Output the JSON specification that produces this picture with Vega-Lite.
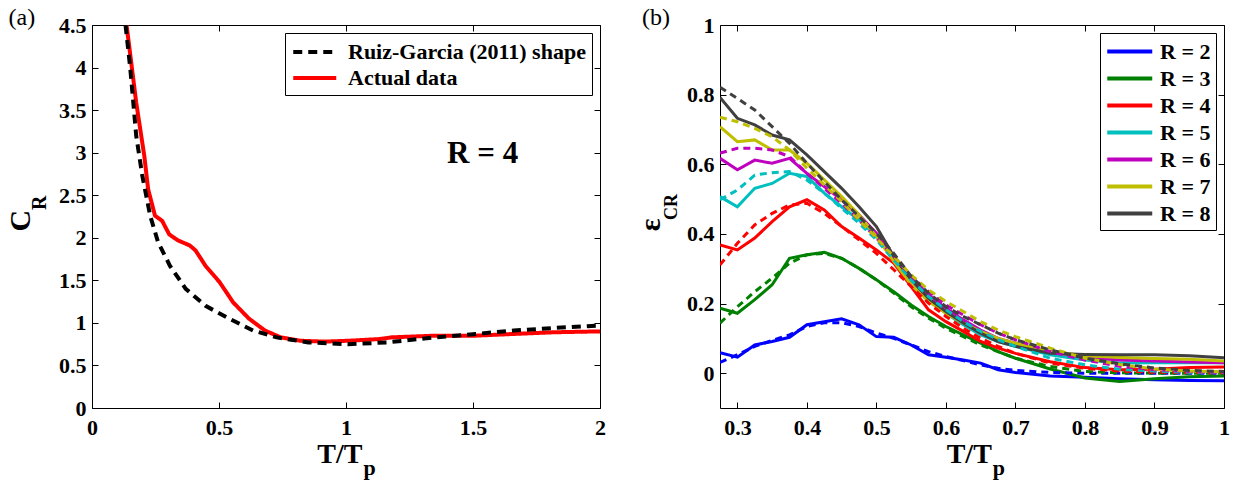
{
"$schema": "https://vega.github.io/schema/vega-lite/v6.json",
"padding": {"left": 5, "top": 5, "right": 5, "bottom": 0},
"bounds": "flush",
"spacing": 120,
"resolve": {"scale": {"color": "independent", "strokeDash": "independent"}, "legend": {"color": "independent", "strokeDash": "independent"}},
"config": {
  "view": {"stroke": "#000000", "strokeWidth": 1},
  "axis": {"grid": false, "domain": false, "ticks": true, "tickColor": "#000000", "tickSize": -6, "tickWidth": 1, "labelFont": "Liberation Serif", "labelFontWeight": "bold", "labelFontSize": 22, "labelColor": "#000000", "labelFlush": false, "labelOverlap": false},
  "axisX": {"labelPadding": 15, "labelFontWeight": "bold"},
  "axisY": {"labelPadding": 12, "labelFontWeight": "bold"},
  "line": {"strokeCap": "butt"},
  "text": {"font": "Liberation Serif", "color": "#000000"}
},
"datasets": {
  "left": [
    {"T":0.136,"C":4.5,"s":"Actual data"},{"T":0.174,"C":3.59,"s":"Actual data"},{"T":0.206,"C":2.96,"s":"Actual data"},{"T":0.221,"C":2.57,"s":"Actual data"},{"T":0.248,"C":2.26,"s":"Actual data"},{"T":0.276,"C":2.2,"s":"Actual data"},{"T":0.304,"C":2.04,"s":"Actual data"},{"T":0.338,"C":1.97,"s":"Actual data"},{"T":0.385,"C":1.91,"s":"Actual data"},{"T":0.408,"C":1.85,"s":"Actual data"},{"T":0.447,"C":1.67,"s":"Actual data"},{"T":0.502,"C":1.48,"s":"Actual data"},{"T":0.556,"C":1.24,"s":"Actual data"},{"T":0.618,"C":1.05,"s":"Actual data"},{"T":0.681,"C":0.91,"s":"Actual data"},{"T":0.743,"C":0.83,"s":"Actual data"},{"T":0.821,"C":0.79,"s":"Actual data"},{"T":0.914,"C":0.78,"s":"Actual data"},{"T":1.008,"C":0.79,"s":"Actual data"},{"T":1.132,"C":0.81,"s":"Actual data"},{"T":1.18,"C":0.83,"s":"Actual data"},{"T":1.35,"C":0.85,"s":"Actual data"},{"T":1.51,"C":0.85,"s":"Actual data"},{"T":1.66,"C":0.87,"s":"Actual data"},{"T":1.82,"C":0.89,"s":"Actual data"},{"T":2.0,"C":0.9,"s":"Actual data"},
    {"T":0.132,"C":4.5,"s":"Ruiz-Garcia (2011) shape"},{"T":0.151,"C":3.98,"s":"Ruiz-Garcia (2011) shape"},{"T":0.174,"C":3.2,"s":"Ruiz-Garcia (2011) shape"},{"T":0.198,"C":2.73,"s":"Ruiz-Garcia (2011) shape"},{"T":0.229,"C":2.26,"s":"Ruiz-Garcia (2011) shape"},{"T":0.26,"C":1.95,"s":"Ruiz-Garcia (2011) shape"},{"T":0.307,"C":1.67,"s":"Ruiz-Garcia (2011) shape"},{"T":0.369,"C":1.4,"s":"Ruiz-Garcia (2011) shape"},{"T":0.447,"C":1.2,"s":"Ruiz-Garcia (2011) shape"},{"T":0.54,"C":1.05,"s":"Ruiz-Garcia (2011) shape"},{"T":0.634,"C":0.91,"s":"Ruiz-Garcia (2011) shape"},{"T":0.727,"C":0.83,"s":"Ruiz-Garcia (2011) shape"},{"T":0.852,"C":0.77,"s":"Ruiz-Garcia (2011) shape"},{"T":1.008,"C":0.75,"s":"Ruiz-Garcia (2011) shape"},{"T":1.16,"C":0.77,"s":"Ruiz-Garcia (2011) shape"},{"T":1.35,"C":0.83,"s":"Ruiz-Garcia (2011) shape"},{"T":1.51,"C":0.87,"s":"Ruiz-Garcia (2011) shape"},{"T":1.66,"C":0.91,"s":"Ruiz-Garcia (2011) shape"},{"T":1.82,"C":0.94,"s":"Ruiz-Garcia (2011) shape"},{"T":2.0,"C":0.97,"s":"Ruiz-Garcia (2011) shape"}
  ],
  "right": [
    {"T":0.275,"e":0.059,"R":"R = 2","k":"a"},{"T":0.3,"e":0.046,"R":"R = 2","k":"a"},{"T":0.325,"e":0.081,"R":"R = 2","k":"a"},{"T":0.35,"e":0.091,"R":"R = 2","k":"a"},{"T":0.375,"e":0.103,"R":"R = 2","k":"a"},{"T":0.4,"e":0.139,"R":"R = 2","k":"a"},{"T":0.425,"e":0.148,"R":"R = 2","k":"a"},{"T":0.45,"e":0.156,"R":"R = 2","k":"a"},{"T":0.475,"e":0.139,"R":"R = 2","k":"a"},{"T":0.5,"e":0.105,"R":"R = 2","k":"a"},{"T":0.525,"e":0.103,"R":"R = 2","k":"a"},{"T":0.55,"e":0.081,"R":"R = 2","k":"a"},{"T":0.575,"e":0.053,"R":"R = 2","k":"a"},{"T":0.6,"e":0.046,"R":"R = 2","k":"a"},{"T":0.625,"e":0.038,"R":"R = 2","k":"a"},{"T":0.65,"e":0.029,"R":"R = 2","k":"a"},{"T":0.675,"e":0.01,"R":"R = 2","k":"a"},{"T":0.7,"e":0.002,"R":"R = 2","k":"a"},{"T":0.75,"e":-0.008,"R":"R = 2","k":"a"},{"T":0.8,"e":-0.012,"R":"R = 2","k":"a"},{"T":0.85,"e":-0.016,"R":"R = 2","k":"a"},{"T":0.9,"e":-0.019,"R":"R = 2","k":"a"},{"T":0.95,"e":-0.021,"R":"R = 2","k":"a"},{"T":1.0,"e":-0.022,"R":"R = 2","k":"a"},
    {"T":0.275,"e":0.187,"R":"R = 3","k":"a"},{"T":0.3,"e":0.172,"R":"R = 3","k":"a"},{"T":0.325,"e":0.211,"R":"R = 3","k":"a"},{"T":0.35,"e":0.254,"R":"R = 3","k":"a"},{"T":0.375,"e":0.33,"R":"R = 3","k":"a"},{"T":0.4,"e":0.34,"R":"R = 3","k":"a"},{"T":0.425,"e":0.347,"R":"R = 3","k":"a"},{"T":0.45,"e":0.33,"R":"R = 3","k":"a"},{"T":0.475,"e":0.301,"R":"R = 3","k":"a"},{"T":0.5,"e":0.268,"R":"R = 3","k":"a"},{"T":0.525,"e":0.234,"R":"R = 3","k":"a"},{"T":0.55,"e":0.196,"R":"R = 3","k":"a"},{"T":0.575,"e":0.163,"R":"R = 3","k":"a"},{"T":0.6,"e":0.134,"R":"R = 3","k":"a"},{"T":0.625,"e":0.11,"R":"R = 3","k":"a"},{"T":0.65,"e":0.086,"R":"R = 3","k":"a"},{"T":0.675,"e":0.062,"R":"R = 3","k":"a"},{"T":0.7,"e":0.043,"R":"R = 3","k":"a"},{"T":0.75,"e":0.012,"R":"R = 3","k":"a"},{"T":0.8,"e":-0.014,"R":"R = 3","k":"a"},{"T":0.85,"e":-0.024,"R":"R = 3","k":"a"},{"T":0.9,"e":-0.016,"R":"R = 3","k":"a"},{"T":0.95,"e":-0.01,"R":"R = 3","k":"a"},{"T":1.0,"e":-0.008,"R":"R = 3","k":"a"},
    {"T":0.275,"e":0.368,"R":"R = 4","k":"a"},{"T":0.3,"e":0.354,"R":"R = 4","k":"a"},{"T":0.325,"e":0.388,"R":"R = 4","k":"a"},{"T":0.35,"e":0.435,"R":"R = 4","k":"a"},{"T":0.375,"e":0.478,"R":"R = 4","k":"a"},{"T":0.4,"e":0.498,"R":"R = 4","k":"a"},{"T":0.425,"e":0.469,"R":"R = 4","k":"a"},{"T":0.45,"e":0.421,"R":"R = 4","k":"a"},{"T":0.475,"e":0.388,"R":"R = 4","k":"a"},{"T":0.5,"e":0.354,"R":"R = 4","k":"a"},{"T":0.525,"e":0.316,"R":"R = 4","k":"a"},{"T":0.55,"e":0.249,"R":"R = 4","k":"a"},{"T":0.575,"e":0.182,"R":"R = 4","k":"a"},{"T":0.6,"e":0.148,"R":"R = 4","k":"a"},{"T":0.625,"e":0.12,"R":"R = 4","k":"a"},{"T":0.65,"e":0.091,"R":"R = 4","k":"a"},{"T":0.675,"e":0.072,"R":"R = 4","k":"a"},{"T":0.7,"e":0.057,"R":"R = 4","k":"a"},{"T":0.75,"e":0.033,"R":"R = 4","k":"a"},{"T":0.8,"e":0.016,"R":"R = 4","k":"a"},{"T":0.85,"e":0.01,"R":"R = 4","k":"a"},{"T":0.9,"e":0.011,"R":"R = 4","k":"a"},{"T":0.95,"e":0.016,"R":"R = 4","k":"a"},{"T":1.0,"e":0.018,"R":"R = 4","k":"a"},
    {"T":0.275,"e":0.507,"R":"R = 5","k":"a"},{"T":0.3,"e":0.478,"R":"R = 5","k":"a"},{"T":0.325,"e":0.531,"R":"R = 5","k":"a"},{"T":0.35,"e":0.545,"R":"R = 5","k":"a"},{"T":0.375,"e":0.574,"R":"R = 5","k":"a"},{"T":0.4,"e":0.565,"R":"R = 5","k":"a"},{"T":0.425,"e":0.517,"R":"R = 5","k":"a"},{"T":0.45,"e":0.478,"R":"R = 5","k":"a"},{"T":0.475,"e":0.44,"R":"R = 5","k":"a"},{"T":0.5,"e":0.392,"R":"R = 5","k":"a"},{"T":0.525,"e":0.33,"R":"R = 5","k":"a"},{"T":0.55,"e":0.268,"R":"R = 5","k":"a"},{"T":0.575,"e":0.215,"R":"R = 5","k":"a"},{"T":0.6,"e":0.172,"R":"R = 5","k":"a"},{"T":0.625,"e":0.139,"R":"R = 5","k":"a"},{"T":0.65,"e":0.11,"R":"R = 5","k":"a"},{"T":0.675,"e":0.091,"R":"R = 5","k":"a"},{"T":0.7,"e":0.077,"R":"R = 5","k":"a"},{"T":0.75,"e":0.053,"R":"R = 5","k":"a"},{"T":0.8,"e":0.038,"R":"R = 5","k":"a"},{"T":0.85,"e":0.029,"R":"R = 5","k":"a"},{"T":0.9,"e":0.03,"R":"R = 5","k":"a"},{"T":0.95,"e":0.03,"R":"R = 5","k":"a"},{"T":1.0,"e":0.03,"R":"R = 5","k":"a"},
    {"T":0.275,"e":0.617,"R":"R = 6","k":"a"},{"T":0.3,"e":0.584,"R":"R = 6","k":"a"},{"T":0.325,"e":0.612,"R":"R = 6","k":"a"},{"T":0.35,"e":0.603,"R":"R = 6","k":"a"},{"T":0.375,"e":0.617,"R":"R = 6","k":"a"},{"T":0.4,"e":0.574,"R":"R = 6","k":"a"},{"T":0.425,"e":0.536,"R":"R = 6","k":"a"},{"T":0.45,"e":0.498,"R":"R = 6","k":"a"},{"T":0.475,"e":0.455,"R":"R = 6","k":"a"},{"T":0.5,"e":0.402,"R":"R = 6","k":"a"},{"T":0.525,"e":0.335,"R":"R = 6","k":"a"},{"T":0.55,"e":0.273,"R":"R = 6","k":"a"},{"T":0.575,"e":0.225,"R":"R = 6","k":"a"},{"T":0.6,"e":0.187,"R":"R = 6","k":"a"},{"T":0.625,"e":0.153,"R":"R = 6","k":"a"},{"T":0.65,"e":0.124,"R":"R = 6","k":"a"},{"T":0.675,"e":0.1,"R":"R = 6","k":"a"},{"T":0.7,"e":0.086,"R":"R = 6","k":"a"},{"T":0.75,"e":0.062,"R":"R = 6","k":"a"},{"T":0.8,"e":0.045,"R":"R = 6","k":"a"},{"T":0.85,"e":0.038,"R":"R = 6","k":"a"},{"T":0.9,"e":0.035,"R":"R = 6","k":"a"},{"T":0.95,"e":0.032,"R":"R = 6","k":"a"},{"T":1.0,"e":0.03,"R":"R = 6","k":"a"},
    {"T":0.275,"e":0.708,"R":"R = 7","k":"a"},{"T":0.3,"e":0.665,"R":"R = 7","k":"a"},{"T":0.325,"e":0.67,"R":"R = 7","k":"a"},{"T":0.35,"e":0.641,"R":"R = 7","k":"a"},{"T":0.375,"e":0.641,"R":"R = 7","k":"a"},{"T":0.4,"e":0.603,"R":"R = 7","k":"a"},{"T":0.425,"e":0.555,"R":"R = 7","k":"a"},{"T":0.45,"e":0.507,"R":"R = 7","k":"a"},{"T":0.475,"e":0.455,"R":"R = 7","k":"a"},{"T":0.5,"e":0.392,"R":"R = 7","k":"a"},{"T":0.525,"e":0.321,"R":"R = 7","k":"a"},{"T":0.55,"e":0.254,"R":"R = 7","k":"a"},{"T":0.575,"e":0.206,"R":"R = 7","k":"a"},{"T":0.6,"e":0.172,"R":"R = 7","k":"a"},{"T":0.625,"e":0.144,"R":"R = 7","k":"a"},{"T":0.65,"e":0.12,"R":"R = 7","k":"a"},{"T":0.675,"e":0.1,"R":"R = 7","k":"a"},{"T":0.7,"e":0.086,"R":"R = 7","k":"a"},{"T":0.75,"e":0.062,"R":"R = 7","k":"a"},{"T":0.8,"e":0.05,"R":"R = 7","k":"a"},{"T":0.85,"e":0.045,"R":"R = 7","k":"a"},{"T":0.9,"e":0.042,"R":"R = 7","k":"a"},{"T":0.95,"e":0.04,"R":"R = 7","k":"a"},{"T":1.0,"e":0.035,"R":"R = 7","k":"a"},
    {"T":0.275,"e":0.792,"R":"R = 8","k":"a"},{"T":0.3,"e":0.732,"R":"R = 8","k":"a"},{"T":0.325,"e":0.713,"R":"R = 8","k":"a"},{"T":0.35,"e":0.684,"R":"R = 8","k":"a"},{"T":0.375,"e":0.67,"R":"R = 8","k":"a"},{"T":0.4,"e":0.627,"R":"R = 8","k":"a"},{"T":0.425,"e":0.579,"R":"R = 8","k":"a"},{"T":0.45,"e":0.531,"R":"R = 8","k":"a"},{"T":0.475,"e":0.478,"R":"R = 8","k":"a"},{"T":0.5,"e":0.421,"R":"R = 8","k":"a"},{"T":0.525,"e":0.335,"R":"R = 8","k":"a"},{"T":0.55,"e":0.268,"R":"R = 8","k":"a"},{"T":0.575,"e":0.215,"R":"R = 8","k":"a"},{"T":0.6,"e":0.177,"R":"R = 8","k":"a"},{"T":0.625,"e":0.144,"R":"R = 8","k":"a"},{"T":0.65,"e":0.115,"R":"R = 8","k":"a"},{"T":0.675,"e":0.091,"R":"R = 8","k":"a"},{"T":0.7,"e":0.077,"R":"R = 8","k":"a"},{"T":0.75,"e":0.057,"R":"R = 8","k":"a"},{"T":0.8,"e":0.054,"R":"R = 8","k":"a"},{"T":0.85,"e":0.053,"R":"R = 8","k":"a"},{"T":0.9,"e":0.053,"R":"R = 8","k":"a"},{"T":0.95,"e":0.05,"R":"R = 8","k":"a"},{"T":1.0,"e":0.044,"R":"R = 8","k":"a"},
    {"T":0.275,"e":0.031,"R":"R = 2","k":"f"},{"T":0.3,"e":0.053,"R":"R = 2","k":"f"},{"T":0.325,"e":0.077,"R":"R = 2","k":"f"},{"T":0.35,"e":0.094,"R":"R = 2","k":"f"},{"T":0.375,"e":0.11,"R":"R = 2","k":"f"},{"T":0.4,"e":0.134,"R":"R = 2","k":"f"},{"T":0.425,"e":0.145,"R":"R = 2","k":"f"},{"T":0.45,"e":0.145,"R":"R = 2","k":"f"},{"T":0.475,"e":0.134,"R":"R = 2","k":"f"},{"T":0.5,"e":0.115,"R":"R = 2","k":"f"},{"T":0.525,"e":0.1,"R":"R = 2","k":"f"},{"T":0.55,"e":0.081,"R":"R = 2","k":"f"},{"T":0.575,"e":0.062,"R":"R = 2","k":"f"},{"T":0.6,"e":0.048,"R":"R = 2","k":"f"},{"T":0.625,"e":0.036,"R":"R = 2","k":"f"},{"T":0.65,"e":0.024,"R":"R = 2","k":"f"},{"T":0.675,"e":0.014,"R":"R = 2","k":"f"},{"T":0.7,"e":0.008,"R":"R = 2","k":"f"},{"T":0.75,"e":0.002,"R":"R = 2","k":"f"},{"T":0.8,"e":0.0,"R":"R = 2","k":"f"},{"T":0.85,"e":0.0,"R":"R = 2","k":"f"},{"T":0.9,"e":0.0,"R":"R = 2","k":"f"},{"T":0.95,"e":0.0,"R":"R = 2","k":"f"},{"T":1.0,"e":0.0,"R":"R = 2","k":"f"},
    {"T":0.275,"e":0.144,"R":"R = 3","k":"f"},{"T":0.3,"e":0.191,"R":"R = 3","k":"f"},{"T":0.325,"e":0.234,"R":"R = 3","k":"f"},{"T":0.35,"e":0.273,"R":"R = 3","k":"f"},{"T":0.375,"e":0.316,"R":"R = 3","k":"f"},{"T":0.4,"e":0.34,"R":"R = 3","k":"f"},{"T":0.425,"e":0.344,"R":"R = 3","k":"f"},{"T":0.45,"e":0.33,"R":"R = 3","k":"f"},{"T":0.475,"e":0.301,"R":"R = 3","k":"f"},{"T":0.5,"e":0.268,"R":"R = 3","k":"f"},{"T":0.525,"e":0.23,"R":"R = 3","k":"f"},{"T":0.55,"e":0.191,"R":"R = 3","k":"f"},{"T":0.575,"e":0.158,"R":"R = 3","k":"f"},{"T":0.6,"e":0.129,"R":"R = 3","k":"f"},{"T":0.625,"e":0.105,"R":"R = 3","k":"f"},{"T":0.65,"e":0.081,"R":"R = 3","k":"f"},{"T":0.675,"e":0.062,"R":"R = 3","k":"f"},{"T":0.7,"e":0.043,"R":"R = 3","k":"f"},{"T":0.75,"e":0.019,"R":"R = 3","k":"f"},{"T":0.8,"e":0.005,"R":"R = 3","k":"f"},{"T":0.85,"e":0.001,"R":"R = 3","k":"f"},{"T":0.9,"e":0.0,"R":"R = 3","k":"f"},{"T":0.95,"e":0.0,"R":"R = 3","k":"f"},{"T":1.0,"e":0.0,"R":"R = 3","k":"f"},
    {"T":0.275,"e":0.311,"R":"R = 4","k":"f"},{"T":0.3,"e":0.373,"R":"R = 4","k":"f"},{"T":0.325,"e":0.426,"R":"R = 4","k":"f"},{"T":0.35,"e":0.459,"R":"R = 4","k":"f"},{"T":0.375,"e":0.483,"R":"R = 4","k":"f"},{"T":0.4,"e":0.488,"R":"R = 4","k":"f"},{"T":0.425,"e":0.459,"R":"R = 4","k":"f"},{"T":0.45,"e":0.421,"R":"R = 4","k":"f"},{"T":0.475,"e":0.383,"R":"R = 4","k":"f"},{"T":0.5,"e":0.344,"R":"R = 4","k":"f"},{"T":0.525,"e":0.297,"R":"R = 4","k":"f"},{"T":0.55,"e":0.249,"R":"R = 4","k":"f"},{"T":0.575,"e":0.201,"R":"R = 4","k":"f"},{"T":0.6,"e":0.163,"R":"R = 4","k":"f"},{"T":0.625,"e":0.129,"R":"R = 4","k":"f"},{"T":0.65,"e":0.1,"R":"R = 4","k":"f"},{"T":0.675,"e":0.077,"R":"R = 4","k":"f"},{"T":0.7,"e":0.057,"R":"R = 4","k":"f"},{"T":0.75,"e":0.029,"R":"R = 4","k":"f"},{"T":0.8,"e":0.014,"R":"R = 4","k":"f"},{"T":0.85,"e":0.006,"R":"R = 4","k":"f"},{"T":0.9,"e":0.003,"R":"R = 4","k":"f"},{"T":0.95,"e":0.002,"R":"R = 4","k":"f"},{"T":1.0,"e":0.001,"R":"R = 4","k":"f"},
    {"T":0.275,"e":0.498,"R":"R = 5","k":"f"},{"T":0.3,"e":0.526,"R":"R = 5","k":"f"},{"T":0.325,"e":0.569,"R":"R = 5","k":"f"},{"T":0.35,"e":0.576,"R":"R = 5","k":"f"},{"T":0.375,"e":0.579,"R":"R = 5","k":"f"},{"T":0.4,"e":0.555,"R":"R = 5","k":"f"},{"T":0.425,"e":0.517,"R":"R = 5","k":"f"},{"T":0.45,"e":0.474,"R":"R = 5","k":"f"},{"T":0.475,"e":0.431,"R":"R = 5","k":"f"},{"T":0.5,"e":0.383,"R":"R = 5","k":"f"},{"T":0.525,"e":0.325,"R":"R = 5","k":"f"},{"T":0.55,"e":0.268,"R":"R = 5","k":"f"},{"T":0.575,"e":0.22,"R":"R = 5","k":"f"},{"T":0.6,"e":0.182,"R":"R = 5","k":"f"},{"T":0.625,"e":0.148,"R":"R = 5","k":"f"},{"T":0.65,"e":0.12,"R":"R = 5","k":"f"},{"T":0.675,"e":0.096,"R":"R = 5","k":"f"},{"T":0.7,"e":0.077,"R":"R = 5","k":"f"},{"T":0.75,"e":0.043,"R":"R = 5","k":"f"},{"T":0.8,"e":0.024,"R":"R = 5","k":"f"},{"T":0.85,"e":0.011,"R":"R = 5","k":"f"},{"T":0.9,"e":0.006,"R":"R = 5","k":"f"},{"T":0.95,"e":0.003,"R":"R = 5","k":"f"},{"T":1.0,"e":0.002,"R":"R = 5","k":"f"},
    {"T":0.275,"e":0.632,"R":"R = 6","k":"f"},{"T":0.3,"e":0.646,"R":"R = 6","k":"f"},{"T":0.325,"e":0.646,"R":"R = 6","k":"f"},{"T":0.35,"e":0.641,"R":"R = 6","k":"f"},{"T":0.375,"e":0.622,"R":"R = 6","k":"f"},{"T":0.4,"e":0.574,"R":"R = 6","k":"f"},{"T":0.425,"e":0.531,"R":"R = 6","k":"f"},{"T":0.45,"e":0.488,"R":"R = 6","k":"f"},{"T":0.475,"e":0.44,"R":"R = 6","k":"f"},{"T":0.5,"e":0.388,"R":"R = 6","k":"f"},{"T":0.525,"e":0.335,"R":"R = 6","k":"f"},{"T":0.55,"e":0.278,"R":"R = 6","k":"f"},{"T":0.575,"e":0.234,"R":"R = 6","k":"f"},{"T":0.6,"e":0.196,"R":"R = 6","k":"f"},{"T":0.625,"e":0.167,"R":"R = 6","k":"f"},{"T":0.65,"e":0.139,"R":"R = 6","k":"f"},{"T":0.675,"e":0.115,"R":"R = 6","k":"f"},{"T":0.7,"e":0.096,"R":"R = 6","k":"f"},{"T":0.75,"e":0.062,"R":"R = 6","k":"f"},{"T":0.8,"e":0.038,"R":"R = 6","k":"f"},{"T":0.85,"e":0.02,"R":"R = 6","k":"f"},{"T":0.9,"e":0.01,"R":"R = 6","k":"f"},{"T":0.95,"e":0.005,"R":"R = 6","k":"f"},{"T":1.0,"e":0.002,"R":"R = 6","k":"f"},
    {"T":0.275,"e":0.735,"R":"R = 7","k":"f"},{"T":0.3,"e":0.722,"R":"R = 7","k":"f"},{"T":0.325,"e":0.703,"R":"R = 7","k":"f"},{"T":0.35,"e":0.679,"R":"R = 7","k":"f"},{"T":0.375,"e":0.641,"R":"R = 7","k":"f"},{"T":0.4,"e":0.589,"R":"R = 7","k":"f"},{"T":0.425,"e":0.541,"R":"R = 7","k":"f"},{"T":0.45,"e":0.493,"R":"R = 7","k":"f"},{"T":0.475,"e":0.44,"R":"R = 7","k":"f"},{"T":0.5,"e":0.388,"R":"R = 7","k":"f"},{"T":0.525,"e":0.335,"R":"R = 7","k":"f"},{"T":0.55,"e":0.282,"R":"R = 7","k":"f"},{"T":0.575,"e":0.239,"R":"R = 7","k":"f"},{"T":0.6,"e":0.206,"R":"R = 7","k":"f"},{"T":0.625,"e":0.177,"R":"R = 7","k":"f"},{"T":0.65,"e":0.148,"R":"R = 7","k":"f"},{"T":0.675,"e":0.124,"R":"R = 7","k":"f"},{"T":0.7,"e":0.105,"R":"R = 7","k":"f"},{"T":0.75,"e":0.072,"R":"R = 7","k":"f"},{"T":0.8,"e":0.043,"R":"R = 7","k":"f"},{"T":0.85,"e":0.025,"R":"R = 7","k":"f"},{"T":0.9,"e":0.012,"R":"R = 7","k":"f"},{"T":0.95,"e":0.006,"R":"R = 7","k":"f"},{"T":1.0,"e":0.004,"R":"R = 7","k":"f"},
    {"T":0.275,"e":0.821,"R":"R = 8","k":"f"},{"T":0.3,"e":0.789,"R":"R = 8","k":"f"},{"T":0.325,"e":0.756,"R":"R = 8","k":"f"},{"T":0.35,"e":0.708,"R":"R = 8","k":"f"},{"T":0.375,"e":0.66,"R":"R = 8","k":"f"},{"T":0.4,"e":0.603,"R":"R = 8","k":"f"},{"T":0.425,"e":0.55,"R":"R = 8","k":"f"},{"T":0.45,"e":0.498,"R":"R = 8","k":"f"},{"T":0.475,"e":0.45,"R":"R = 8","k":"f"},{"T":0.5,"e":0.402,"R":"R = 8","k":"f"},{"T":0.525,"e":0.344,"R":"R = 8","k":"f"},{"T":0.55,"e":0.278,"R":"R = 8","k":"f"},{"T":0.575,"e":0.23,"R":"R = 8","k":"f"},{"T":0.6,"e":0.191,"R":"R = 8","k":"f"},{"T":0.625,"e":0.163,"R":"R = 8","k":"f"},{"T":0.65,"e":0.139,"R":"R = 8","k":"f"},{"T":0.675,"e":0.115,"R":"R = 8","k":"f"},{"T":0.7,"e":0.096,"R":"R = 8","k":"f"},{"T":0.75,"e":0.067,"R":"R = 8","k":"f"},{"T":0.8,"e":0.043,"R":"R = 8","k":"f"},{"T":0.85,"e":0.027,"R":"R = 8","k":"f"},{"T":0.9,"e":0.015,"R":"R = 8","k":"f"},{"T":0.95,"e":0.008,"R":"R = 8","k":"f"},{"T":1.0,"e":0.005,"R":"R = 8","k":"f"}
  ]
},
"hconcat": [
  {
    "width": 508, "height": 383,
    "resolve": {"axis": {"x": "independent", "y": "independent"}},
    "layer": [
      {
        "data": {"name": "left"},
        "mark": {"type": "line", "strokeWidth": 4, "clip": true},
        "encoding": {
          "x": {"field": "T", "type": "quantitative", "scale": {"domain": [0, 2], "nice": false}, "axis": {"values": [0, 0.5, 1, 1.5, 2], "format": "~g", "title": null, "labelFontWeight": "bold"}},
          "y": {"field": "C", "type": "quantitative", "scale": {"domain": [0, 4.5], "nice": false}, "axis": {"values": [0, 0.5, 1, 1.5, 2, 2.5, 3, 3.5, 4, 4.5], "format": "~g", "title": null, "labelFontWeight": "bold"}},
          "color": {"field": "s", "type": "nominal", "scale": {"domain": ["Ruiz-Garcia (2011) shape", "Actual data"], "range": ["#000000", "#FF0000"]},
            "legend": {"orient": "top-right", "offset": 8, "title": null, "symbolType": "M-1,0H3", "symbolSize": 462, "symbolStrokeWidth": 4, "labelFont": "Liberation Serif", "labelFontWeight": "bold", "labelFontSize": 22, "labelColor": "#000000", "labelOffset": 31, "padding": 6, "rowPadding": 2, "strokeColor": "#000000", "fillColor": "#FFFFFF", "labelLimit": 400}},
          "strokeDash": {"field": "s", "type": "nominal", "scale": {"domain": ["Ruiz-Garcia (2011) shape", "Actual data"], "range": [[9, 6], [1, 0]]},
            "legend": {"orient": "top-right", "offset": 8, "title": null, "symbolType": "M-1,0H3", "symbolSize": 462, "symbolStrokeWidth": 4, "labelFont": "Liberation Serif", "labelFontWeight": "bold", "labelFontSize": 22, "labelColor": "#000000", "labelOffset": 31, "padding": 6, "rowPadding": 2, "strokeColor": "#000000", "fillColor": "#FFFFFF", "labelLimit": 400}}
        }
      },
      {
        "data": {"name": "left"},
        "mark": {"type": "point", "opacity": 0},
        "encoding": {
          "x": {"field": "T", "type": "quantitative", "axis": {"orient": "top", "labels": false, "title": null, "values": [0, 0.5, 1, 1.5, 2]}},
          "y": {"field": "C", "type": "quantitative", "axis": {"orient": "right", "labels": false, "title": null, "values": [0, 0.5, 1, 1.5, 2, 2.5, 3, 3.5, 4, 4.5]}}
        }
      },
      {"data": {"values": [{}]}, "mark": {"type": "text", "text": "(a)", "fontSize": 24, "align": "center", "baseline": "middle"}, "encoding": {"x": {"datum": -0.276, "axis": null}, "y": {"datum": 4.58, "axis": null}}},
      {"data": {"values": [{}]}, "mark": {"type": "text", "text": "R = 4", "fontSize": 31, "fontWeight": "bold", "align": "center", "baseline": "middle"}, "encoding": {"x": {"datum": 1.538, "axis": null}, "y": {"datum": 2.98, "axis": null}}},
      {"data": {"values": [{}]}, "mark": {"type": "text", "text": "C", "fontSize": 30, "fontWeight": "bold", "angle": 270, "align": "center", "baseline": "middle"}, "encoding": {"x": {"datum": -0.281, "axis": null}, "y": {"datum": 2.2, "axis": null}}},
      {"data": {"values": [{}]}, "mark": {"type": "text", "text": "R", "fontSize": 20, "fontWeight": "bold", "angle": 270, "align": "center", "baseline": "middle"}, "encoding": {"x": {"datum": -0.205, "axis": null}, "y": {"datum": 2.41, "axis": null}}},
      {"data": {"values": [{}]}, "mark": {"type": "text", "text": "T/T", "fontSize": 28, "fontWeight": "bold", "align": "right", "baseline": "alphabetic"}, "encoding": {"x": {"datum": 1.065, "axis": null}, "y": {"datum": -0.646, "axis": null}}},
      {"data": {"values": [{}]}, "mark": {"type": "text", "text": "p", "fontSize": 22, "fontWeight": "bold", "align": "left", "baseline": "alphabetic"}, "encoding": {"x": {"datum": 1.069, "axis": null}, "y": {"datum": -0.787, "axis": null}}}
    ]
  },
  {
    "width": 504, "height": 383,
    "resolve": {"axis": {"x": "independent", "y": "independent"}},
    "layer": [
      {
        "data": {"name": "right"},
        "transform": [{"filter": "datum.k === 'a'"}],
        "mark": {"type": "line", "strokeWidth": 3, "clip": true},
        "encoding": {
          "x": {"field": "T", "type": "quantitative", "scale": {"domain": [0.275, 1], "nice": false}, "axis": {"values": [0.3, 0.4, 0.5, 0.6, 0.7, 0.8, 0.9, 1], "format": "~g", "title": null, "labelFontWeight": "bold"}},
          "y": {"field": "e", "type": "quantitative", "scale": {"domain": [-0.1, 1], "nice": false}, "axis": {"values": [0, 0.2, 0.4, 0.6, 0.8, 1], "format": "~g", "title": null, "labelFontWeight": "bold"}},
          "color": {"field": "R", "type": "nominal", "scale": {"domain": ["R = 2", "R = 3", "R = 4", "R = 5", "R = 6", "R = 7", "R = 8"], "range": ["#0000FF", "#008000", "#FF0000", "#00BFBF", "#BF00BF", "#BFBF00", "#404040"]},
            "legend": {"orient": "top-right", "offset": 8, "title": null, "symbolType": "M-1,0H3", "symbolSize": 506, "symbolStrokeWidth": 4, "labelFont": "Liberation Serif", "labelFontWeight": "bold", "labelFontSize": 22, "labelColor": "#000000", "labelOffset": 28, "padding": 5, "rowPadding": 2, "strokeColor": "#000000", "fillColor": "#FFFFFF"}}
        }
      },
      {
        "data": {"name": "right"},
        "transform": [{"filter": "datum.k === 'f'"}],
        "mark": {"type": "line", "strokeWidth": 3, "strokeDash": [7, 5], "clip": true},
        "encoding": {
          "x": {"field": "T", "type": "quantitative", "axis": null},
          "y": {"field": "e", "type": "quantitative", "axis": null},
          "color": {"field": "R", "type": "nominal", "legend": null}
        }
      },
      {
        "data": {"name": "right"},
        "mark": {"type": "point", "opacity": 0},
        "encoding": {
          "x": {"field": "T", "type": "quantitative", "axis": {"orient": "top", "labels": false, "title": null, "values": [0.3, 0.4, 0.5, 0.6, 0.7, 0.8, 0.9, 1]}},
          "y": {"field": "e", "type": "quantitative", "axis": {"orient": "right", "labels": false, "title": null, "values": [0, 0.2, 0.4, 0.6, 0.8, 1]}}
        }
      },
      {"data": {"values": [{}]}, "mark": {"type": "text", "text": "(b)", "fontSize": 24, "align": "center", "baseline": "middle"}, "encoding": {"x": {"datum": 0.183, "axis": null}, "y": {"datum": 1.02, "axis": null}}},
      {"data": {"values": [{}]}, "mark": {"type": "text", "text": "ε", "fontSize": 30, "fontWeight": "bold", "angle": 270, "align": "center", "baseline": "middle"}, "encoding": {"x": {"datum": 0.176, "axis": null}, "y": {"datum": 0.426, "axis": null}}},
      {"data": {"values": [{}]}, "mark": {"type": "text", "text": "CR", "fontSize": 18, "fontWeight": "bold", "angle": 270, "align": "center", "baseline": "middle"}, "encoding": {"x": {"datum": 0.206, "axis": null}, "y": {"datum": 0.477, "axis": null}}},
      {"data": {"values": [{}]}, "mark": {"type": "text", "text": "T/T", "fontSize": 28, "fontWeight": "bold", "align": "right", "baseline": "alphabetic"}, "encoding": {"x": {"datum": 0.666, "axis": null}, "y": {"datum": -0.258, "axis": null}}},
      {"data": {"values": [{}]}, "mark": {"type": "text", "text": "p", "fontSize": 22, "fontWeight": "bold", "align": "left", "baseline": "alphabetic"}, "encoding": {"x": {"datum": 0.6675, "axis": null}, "y": {"datum": -0.292, "axis": null}}}
    ]
  }
]
}
